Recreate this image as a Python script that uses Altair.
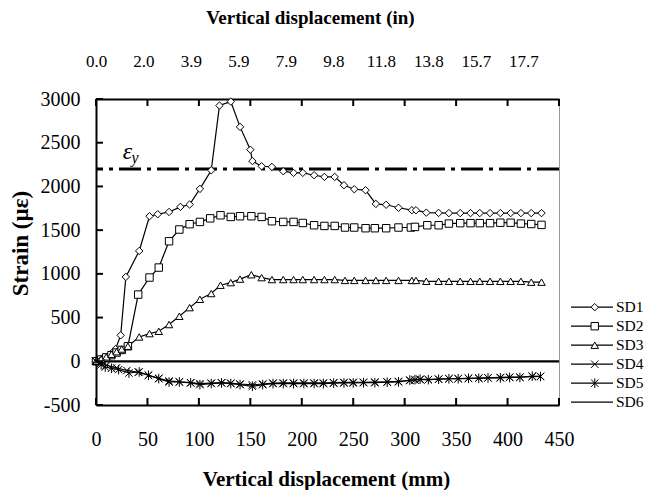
import altair as alt
import pandas as pd

FONT = "Liberation Serif"

series_names = ["SD1", "SD2", "SD3", "SD4", "SD5", "SD6"]

sd1_x = [0, 5, 10, 15, 19, 24, 29, 42, 52, 60, 71, 82, 91, 101, 112, 120, 131, 140, 150, 152,
         161, 171, 182, 192, 201, 212, 222, 232, 241, 251, 262, 272, 282, 294, 307, 311,
         321, 333, 343, 354, 364, 373, 383, 393, 403, 413, 423, 433]
sd1_y = [0, 25, 50, 90, 140, 297, 965, 1262, 1659, 1682, 1708, 1766, 1793, 1972, 2185, 2925, 2970, 2681, 2420, 2290,
         2231, 2223, 2174, 2155, 2155, 2128, 2109, 2109, 2014, 1968, 1957, 1800, 1790, 1756, 1728, 1728,
         1700, 1697, 1695, 1695, 1695, 1695, 1695, 1695, 1695, 1695, 1695, 1695]

sd2_x = [0, 5, 10, 15, 20, 25, 31, 41, 52, 61, 71, 81, 91, 101, 111, 121, 131, 140, 151, 161,
         171, 182, 192, 201, 212, 222, 232, 242, 251, 262, 271, 282, 294, 306, 310,
         322, 333, 343, 354, 364, 373, 383, 393, 403, 413, 423, 433]
sd2_y = [0, 20, 45, 70, 100, 130, 172, 763, 958, 1072, 1373, 1507, 1568, 1594, 1635, 1670, 1651, 1659, 1659, 1651,
         1602, 1594, 1594, 1582, 1556, 1548, 1548, 1530, 1530, 1522, 1522, 1522, 1530, 1530, 1537,
         1556, 1556, 1575, 1580, 1580, 1580, 1580, 1585, 1585, 1575, 1570, 1560]

sd3_x = [0, 5, 10, 15, 20, 25, 31, 42, 52, 61, 71, 81, 91, 101, 112, 121, 131, 140, 151, 161,
         171, 182, 192, 201, 212, 222, 232, 242, 251, 262, 272, 282, 294, 307, 311,
         321, 333, 343, 354, 364, 373, 383, 393, 403, 413, 423, 433]
sd3_y = [0, 25, 50, 80, 110, 140, 172, 278, 317, 343, 420, 515, 614, 709, 775, 870, 900, 940, 990, 957,
         935, 935, 935, 935, 935, 935, 935, 925, 925, 925, 925, 925, 925, 925, 925,
         915, 915, 915, 915, 915, 915, 915, 915, 915, 915, 905, 905]

sd4_x = [0, 5, 10, 20, 30, 41, 51, 61, 71, 81, 92, 101, 112, 122, 131, 140, 152, 162, 172, 182,
         192, 202, 212, 221, 231, 241, 250, 260, 271, 283, 294, 305, 310, 315, 323,
         333, 343, 352, 362, 372, 381, 393, 402, 412, 424, 432]
sd4_y = [0, -20, -45, -75, -105, -125, -160, -195, -225, -235, -245, -255, -250, -245, -250, -260, -270, -260, -250, -248,
         -248, -248, -248, -248, -245, -242, -240, -240, -238, -235, -230, -220, -215, -210, -210,
         -205, -200, -198, -195, -192, -190, -185, -182, -180, -175, -172]

sd5_x = [0, 5, 9, 15, 22, 32, 42, 51, 61, 71, 81, 92, 101, 112, 122, 131, 140, 152, 162, 172,
         182, 192, 202, 212, 221, 231, 241, 250, 260, 271, 283, 294, 305, 310, 315,
         323, 333, 343, 352, 362, 372, 381, 393, 402, 412, 424, 432]
sd5_y = [0, -40, -65, -80, -95, -134, -122, -160, -198, -237, -237, -248, -267, -255, -248, -255, -267, -286, -267, -255,
         -255, -255, -255, -255, -255, -250, -248, -248, -245, -245, -240, -235, -215, -210, -205,
         -210, -205, -200, -200, -195, -195, -190, -190, -185, -185, -170, -175]

sd6_x = [0, 450]
sd6_y = [0, 0]

x_ticks = [0, 50, 100, 150, 200, 250, 300, 350, 400, 450]
y_ticks = [-500, 0, 500, 1000, 1500, 2000, 2500, 3000]
top_positions = [0, 1, 2, 3, 4, 5, 6, 7, 8, 9]      # equally spaced secondary-axis labels
top_step_in = 50 / 25.4                             # inches per label step
top_domain_max = 9.75                               # plot width in label steps
yield_strain = [2200]
eps_pos = [30.5, 2395]
sub_pos = [38, 2325]

rows = []
for name, xs, ys in zip(series_names,
                        [sd1_x, sd2_x, sd3_x, sd4_x, sd5_x, sd6_x],
                        [sd1_y, sd2_y, sd3_y, sd4_y, sd5_y, sd6_y]):
    for a, b in zip(xs, ys):
        rows.append({"series": name, "disp": a, "strain": b})
df = pd.DataFrame(rows)
df_pts = df[df["series"] != "SD6"].copy()
df_pts["marker"] = df_pts["series"]

X_MIN, X_MAX = 0, 450
Y_MIN, Y_MAX = -500, 3000
xscale = alt.Scale(domain=[X_MIN, X_MAX], nice=False, zero=False)
yscale = alt.Scale(domain=[Y_MIN, Y_MAX], nice=False, zero=False)
topscale = alt.Scale(domain=[0, top_domain_max], nice=False, zero=False)

X_PATH = "M-1,-1L1,1M-1,1L1,-1"
STAR_PATH = "M-1,-1L1,1M-1,1L1,-1M0,-1.3L0,1.3"

lines = alt.Chart(df).mark_line(color="black").encode(
    x=alt.X("disp:Q", scale=xscale,
            axis=alt.Axis(orient="bottom", values=x_ticks, ticks=False, tickSize=0, grid=False,
                          domainColor="black", domainWidth=2, labelFlush=False,
                          labelFont=FONT, labelFontSize=20, labelColor="black", labelPadding=24,
                          title="Vertical displacement (mm)", titleFont=FONT, titleFontSize=21,
                          titleFontWeight="bold", titleColor="black",
                          titleX=230, titleY=74, titleAlign="center", titleBaseline="middle")),
    y=alt.Y("strain:Q", scale=yscale,
            axis=alt.Axis(orient="left", values=y_ticks, ticks=False, tickSize=0, grid=False,
                          domainColor="black", domainWidth=2, labelExpr="'' + datum.value",
                          labelFlush=False,
                          labelFont=FONT, labelFontSize=20, labelColor="black", labelPadding=16,
                          title="Strain (µε)", titleFont=FONT, titleFontSize=23,
                          titleFontWeight="bold", titleColor="black",
                          titleX=-76, titleY=144, titleAngle=270, titleAlign="center",
                          titleBaseline="middle")),
    color=alt.Color("series:N", scale=alt.Scale(domain=series_names, range=["black"] * 6),
                    legend=alt.Legend(orient="none", legendX=474, legendY=199, title=None,
                                      symbolType="stroke", symbolSize=1764, symbolStrokeWidth=1.2,
                                      symbolStrokeColor="black", clipHeight=18.4,
                                      labelFont=FONT, labelFontSize=15.5, labelColor="black",
                                      labelOffset=2, rowPadding=0, padding=0)),
    strokeWidth=alt.condition(alt.datum.series == "SD6", alt.value(2.2), alt.value(1.2)),
)

points = alt.Chart(df_pts).mark_point(filled=False, fill="white", stroke="black",
                                      strokeWidth=1, size=55, opacity=1).encode(
    x=alt.X("disp:Q", scale=xscale, axis=None),
    y=alt.Y("strain:Q", scale=yscale, axis=None),
    shape=alt.Shape("marker:N",
                    scale=alt.Scale(domain=series_names[:5],
                                    range=["diamond", "square", "triangle-up", X_PATH, STAR_PATH]),
                    legend=alt.Legend(orient="none", legendX=491, legendY=199, title=None,
                                      symbolSize=55, symbolStrokeWidth=1, clipHeight=18.4,
                                      labelExpr="''", labelFontSize=15.5,
                                      labelOffset=2, rowPadding=0, padding=0)),
)

rule_df = pd.DataFrame({"y": yield_strain})
rule = alt.Chart(rule_df).mark_rule(color="black", strokeWidth=3, strokeDash=[22, 6, 4, 6]).encode(
    y=alt.Y("y:Q", scale=yscale, axis=None),
)

top_df = pd.DataFrame({"pos": top_positions})
top_axis = alt.Chart(top_df).mark_text(text="").encode(
    x=alt.X("pos:Q", scale=topscale,
            axis=alt.Axis(orient="top", values=top_positions, ticks=False, tickSize=0, grid=False,
                          domainColor="black", domainWidth=2, labelFlush=False,
                          labelExpr="format(datum.value * %f, '.1f')" % top_step_in,
                          labelFont=FONT, labelFontSize=17, labelColor="black", labelPadding=29,
                          title="Vertical displacement (in)", titleFont=FONT, titleFontSize=19,
                          titleFontWeight="bold", titleColor="black",
                          titleX=214, titleY=-82, titleAlign="center", titleBaseline="middle")),
    y=alt.value(0),
)

TICK_COLOR = "black"
xt_df = pd.DataFrame({"xt": x_ticks})
yt_df = pd.DataFrame({"yt": y_ticks})
bottom_ticks = alt.Chart(xt_df).mark_tick(color=TICK_COLOR, thickness=2, size=7, opacity=1,
                                          orient="vertical", yOffset=-3.5).encode(
    x=alt.X("xt:Q", scale=xscale, axis=None),
    y=alt.Y(datum=Y_MIN, scale=yscale, axis=None))
top_ticks = alt.Chart(xt_df).mark_tick(color=TICK_COLOR, thickness=2, size=7, opacity=1,
                                       orient="vertical", yOffset=3.5).encode(
    x=alt.X("xt:Q", scale=xscale, axis=None),
    y=alt.Y(datum=Y_MAX, scale=yscale, axis=None))
left_ticks = alt.Chart(yt_df).mark_tick(color=TICK_COLOR, thickness=2, size=7, opacity=1,
                                        orient="horizontal", xOffset=3.5).encode(
    y=alt.Y("yt:Q", scale=yscale, axis=None),
    x=alt.X(datum=X_MIN, scale=xscale, axis=None))

eps_df = pd.DataFrame({"x": [eps_pos[0]], "y": [eps_pos[1]], "t": ["ε"]})
eps = alt.Chart(eps_df).mark_text(font=FONT, fontSize=24, fontStyle="italic", color="black",
                                  align="center", baseline="middle").encode(
    x=alt.X("x:Q", scale=xscale, axis=None),
    y=alt.Y("y:Q", scale=yscale, axis=None),
    text="t:N",
)

sub_df = pd.DataFrame({"x": [sub_pos[0]], "y": [sub_pos[1]], "t": ["y"]})
sub = alt.Chart(sub_df).mark_text(font=FONT, fontSize=16, fontStyle="italic", color="black",
                                  align="center", baseline="middle").encode(
    x=alt.X("x:Q", scale=xscale, axis=None),
    y=alt.Y("y:Q", scale=yscale, axis=None),
    text="t:N",
)

chart = alt.layer(lines, rule, points, eps, sub, top_axis, bottom_ticks, top_ticks, left_ticks).resolve_axis(
    x="independent", y="independent"
).resolve_scale(x="independent").properties(
    width=463, height=306,
    autosize=alt.AutoSizeParams(type="none"),
    padding={"left": 88, "top": 91, "right": 86, "bottom": 85},
    background="white",
).configure(font=FONT).configure_view(stroke="#999999", strokeWidth=1)

chart.save("out.html", embed_options={"renderer": "svg", "actions": False})
